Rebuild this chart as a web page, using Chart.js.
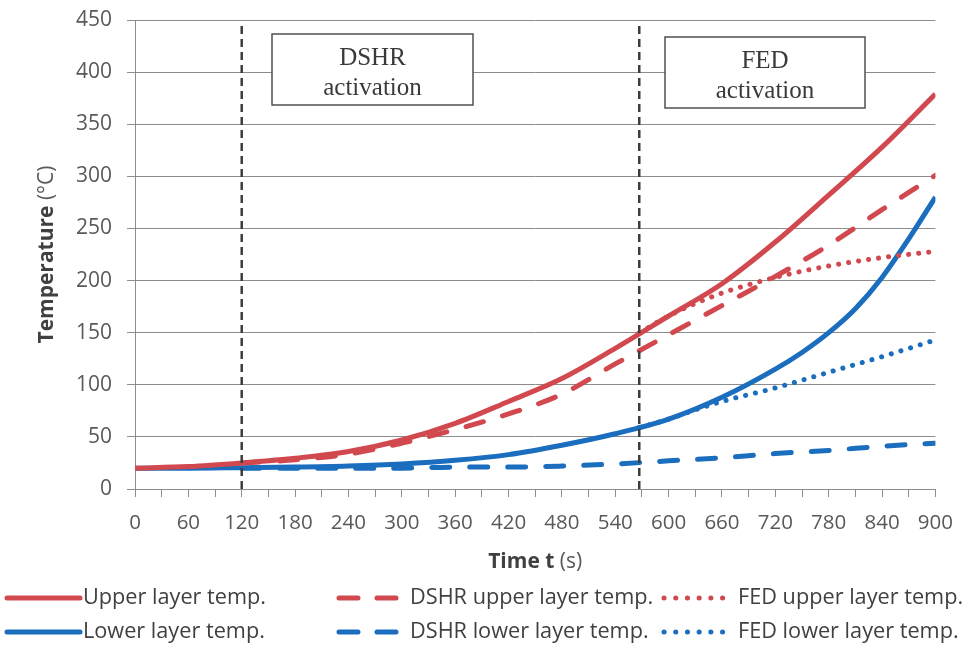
<!DOCTYPE html>
<html>
<head>
<meta charset="utf-8">
<script src="https://cdn.jsdelivr.net/npm/chart.js@4"></script>
<style>
  html, body { margin: 0; padding: 0; background: #fff; }
  canvas { display: block; }
</style>
</head>
<body>
<canvas id="chart" width="967" height="654"></canvas>
<script>
// Dados (temperatura em °C, tempo em s)
const times = [0, 60, 120, 180, 240, 300, 360, 420, 480, 540, 600, 660, 720, 780, 840, 900];
const upperTemp = [20, 21.5, 25, 29.5, 36, 47, 63, 84, 106, 135, 166, 197, 237, 282, 328, 379];

const lowerTimes = [0, 60, 120, 180, 240, 300, 360, 420, 480, 540, 600, 660, 720, 750, 780, 810, 840, 870, 900];
const lowerTemp = [20, 20, 20.5, 21, 22, 24, 27.5, 33, 42, 53, 67, 88, 115, 131, 150, 173, 203, 240, 280];

const dshrTimes = [120, 180, 240, 300, 360, 420, 480, 540, 600, 660, 720, 780, 840, 900];
const dshrUpperTemp = [25, 28, 33.5, 44, 57, 72, 91, 120, 148, 176, 204, 234, 268, 301];
const dshrLowerTemp = [20, 20, 20, 20, 21, 21, 22, 24, 27, 30, 34, 37, 41, 44];

const fedTimes = [567, 600, 630, 660, 720, 780, 840, 900];
const fedUpperTemp = [150, 166, 178, 188, 203, 214, 222, 228];
const fedLowerTemp = [59, 67, 76, 84, 97, 112, 127, 143];

const activationTimes = [120, 567];
const activationSpan = [0, 447];

const RED = '#D1494E';
const BLUE = '#1B6DBE';

const toPoints = (xs, ys) => xs.map((x, i) => ({ x: x, y: ys[i] }));

const DASHED = [18, 20];
const DOTTED = [0.1, 10];

// Linhas verticais de ativação
const activationSets = activationTimes.map(t => ({
    data: activationSpan.map(v => ({ x: t, y: v })),
    borderColor: '#3d3d3d',
    borderWidth: 2.5,
    borderDash: [8, 5],
    cubicInterpolationMode: 'default',
    tension: 0
}));

const legendItems = [
    { label: 'Upper layer temp.', color: RED, dash: [], x0: 7, x1: 80, tx: 83, row: 0 },
    { label: 'Lower layer temp.', color: BLUE, dash: [], x0: 7, x1: 80, tx: 83, row: 1 },
    { label: 'DSHR upper layer temp.', color: RED, dash: [19, 19], x0: 339, x1: 397, tx: 410, row: 0 },
    { label: 'DSHR lower layer temp.', color: BLUE, dash: [19, 19], x0: 339, x1: 397, tx: 410, row: 1 },
    { label: 'FED upper layer temp.', color: RED, dash: [0.1, 11.6], x0: 664, x1: 723, tx: 738, row: 0 },
    { label: 'FED lower layer temp.', color: BLUE, dash: [0.1, 11.6], x0: 664, x1: 723, tx: 738, row: 1 }
];
const legendRowsY = [598, 632];

const annotations = [
    { lines: ['DSHR', 'activation'], x: 272, y: 34, w: 201, h: 71 },
    { lines: ['FED', 'activation'], x: 665, y: 37, w: 200, h: 71 }
];

// Plugin para títulos dos eixos, caixas de texto e legenda
const decorations = {
    id: 'decorations',
    afterDatasetsDraw(chart) {
        const ctx = chart.ctx;
        ctx.save();
        annotations.forEach(a => {
            ctx.fillStyle = '#fff';
            ctx.fillRect(a.x, a.y, a.w, a.h);
            ctx.strokeStyle = '#505050';
            ctx.lineWidth = 1.5;
            ctx.strokeRect(a.x, a.y, a.w, a.h);
            ctx.fillStyle = '#3a3a3a';
            ctx.font = '25px "Liberation Serif", serif';
            ctx.textAlign = 'center';
            ctx.textBaseline = 'middle';
            ctx.fillText(a.lines[0], a.x + a.w / 2, a.y + 24);
            ctx.fillText(a.lines[1], a.x + a.w / 2, a.y + 54);
        });
        ctx.restore();
    },
    afterDraw(chart) {
        const ctx = chart.ctx;
        const area = chart.chartArea;
        ctx.save();
        ctx.textBaseline = 'middle';
        ctx.textAlign = 'left';

        // Título do eixo X
        const boldX = 'bold 21px "Open Sans"';
        const normX = '21px "Open Sans"';
        ctx.font = boldX;
        const w1 = ctx.measureText('Time t').width;
        ctx.font = normX;
        const w2 = ctx.measureText(' (s)').width;
        let sx = (area.left + area.right) / 2 - (w1 + w2) / 2;
        ctx.fillStyle = '#404040';
        ctx.font = boldX;
        ctx.fillText('Time t', sx, 562);
        ctx.fillStyle = '#595959';
        ctx.font = normX;
        ctx.fillText(' (s)', sx + w1, 562);

        // Título do eixo Y
        ctx.save();
        ctx.translate(47, (area.top + area.bottom) / 2);
        ctx.rotate(-Math.PI / 2);
        ctx.font = boldX;
        const h1 = ctx.measureText('Temperature').width;
        ctx.font = normX;
        const h2 = ctx.measureText(' (°C)').width;
        const sy = -(h1 + h2) / 2;
        ctx.fillStyle = '#404040';
        ctx.font = boldX;
        ctx.fillText('Temperature', sy, 0);
        ctx.fillStyle = '#595959';
        ctx.font = normX;
        ctx.fillText(' (°C)', sy + h1, 0);
        ctx.restore();

        // Legenda
        legendItems.forEach(item => {
            const y = legendRowsY[item.row];
            ctx.strokeStyle = item.color;
            ctx.lineWidth = 5;
            ctx.lineCap = 'round';
            ctx.setLineDash(item.dash);
            ctx.beginPath();
            ctx.moveTo(item.x0, y);
            ctx.lineTo(item.x1, y);
            ctx.stroke();
            ctx.setLineDash([]);
            ctx.fillStyle = '#404040';
            ctx.font = '21.7px "Open Sans"';
            ctx.fillText(item.label, item.tx, y);
        });
        ctx.restore();
    }
};

const ctx = document.getElementById('chart').getContext('2d');
new Chart(ctx, {
    type: 'line',
    data: {
        datasets: [
            ...activationSets,
            {
                label: 'FED upper layer temp.',
                data: toPoints(fedTimes, fedUpperTemp),
                borderColor: RED,
                borderDash: DOTTED,
                borderCapStyle: 'round'
            },
            {
                label: 'FED lower layer temp.',
                data: toPoints(fedTimes, fedLowerTemp),
                borderColor: BLUE,
                borderDash: DOTTED,
                borderCapStyle: 'round'
            },
            {
                label: 'DSHR upper layer temp.',
                data: toPoints(dshrTimes, dshrUpperTemp),
                borderColor: RED,
                borderDash: DASHED,
                borderCapStyle: 'round'
            },
            {
                label: 'DSHR lower layer temp.',
                data: toPoints(dshrTimes, dshrLowerTemp),
                borderColor: BLUE,
                borderDash: DASHED,
                borderCapStyle: 'round'
            },
            {
                label: 'Upper layer temp.',
                data: toPoints(times, upperTemp),
                borderColor: RED
            },
            {
                label: 'Lower layer temp.',
                data: toPoints(lowerTimes, lowerTemp),
                borderColor: BLUE
            }
        ]
    },
    options: {
        responsive: false,
        animation: false,
        layout: { padding: { top: 20, right: 31, left: 0, bottom: 0 } },
        elements: {
            point: { radius: 0, hoverRadius: 0 },
            line: { borderWidth: 5, cubicInterpolationMode: 'monotone', fill: false }
        },
        plugins: {
            legend: { display: false },
            tooltip: { enabled: false }
        },
        scales: {
            x: {
                type: 'linear',
                min: 0,
                max: 900,
                afterFit(scale) { scale.height = 165; },
                ticks: {
                    stepSize: 30,
                    autoSkip: false,
                    maxRotation: 0,
                    padding: 14,
                    color: '#595959',
                    font: { family: 'Open Sans', size: 20.5 },
                    callback: v => (v % 60 === 0 ? v : '')
                },
                grid: { drawOnChartArea: false, drawTicks: true, tickLength: 8, color: '#8c8c8c' },
                border: { color: '#8c8c8c', width: 1 }
            },
            y: {
                min: 0,
                max: 450,
                afterFit(scale) {
                    scale.width = 135;
                    scale.paddingTop = 0;
                    scale.paddingBottom = 0;
                },
                ticks: {
                    stepSize: 50,
                    padding: 15,
                    color: '#595959',
                    font: { family: 'Open Sans', size: 21 }
                },
                grid: { color: '#8c8c8c', tickLength: 8 },
                border: { color: '#8c8c8c', width: 1 }
            }
        }
    },
    plugins: [decorations]
});
</script>
</body>
</html>
